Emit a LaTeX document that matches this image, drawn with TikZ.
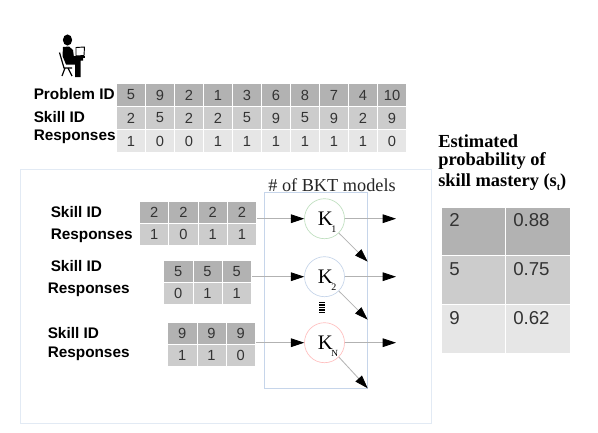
\documentclass[tikz,border=0pt]{standalone}
\usepackage{fontspec}
\setmainfont{Liberation Serif}
\newfontfamily\arialf{Liberation Sans}
\usetikzlibrary{arrows.meta}
\definecolor{gA}{HTML}{B2B2B2}
\definecolor{gB}{HTML}{CCCCCC}
\definecolor{gC}{HTML}{E6E6E6}
\definecolor{frameC}{HTML}{E2EAF4}
\definecolor{boxC}{HTML}{C6D5EA}
\definecolor{cellTxt}{HTML}{333333}
\tikzset{x=0.75pt,y=-0.75pt,
 lab/.style={font=\arialf\fontsize{11.5pt}{13pt}\bfseries\selectfont,anchor=west,inner sep=0pt,text=black},
 celltxt/.style={font=\arialf\fontsize{11pt}{13pt}\selectfont,text=cellTxt,inner sep=0pt},
 bigtxt/.style={font=\arialf\fontsize{14pt}{16pt}\selectfont,text=cellTxt,inner sep=0pt},
 conn/.style={draw=black!30,line width=0.6pt,-{Triangle[length=10pt,width=6.5pt,color=black]}},
 kn/.style={circle,minimum size=30pt,inner sep=0pt,line width=0.5pt,fill=white},
 ktxt/.style={font=\fontsize{15.5pt}{17pt}\selectfont,inner sep=0pt,anchor=base west,text=black},
 ksub/.style={font=\fontsize{7.5pt}{8pt}\selectfont,inner sep=0pt,anchor=base west,text=black},
 hd/.style={font=\fontsize{13.8pt}{16pt}\selectfont\bfseries,anchor=west,inner sep=0pt,text=black}}
\newcommand{\cellbox}[6]{% x0 y0 x1 y1 fill text
 \fill[#5,draw=white,line width=0.4pt] (#1,#2) rectangle (#3,#4);
 \node[celltxt] at ({(#1+#3)/2},{(#2+#4)/2+0.5}) {#6};}
\begin{document}
\begin{tikzpicture}
\useasboundingbox (0,0) rectangle (598,432);
\fill[white] (0,0) rectangle (598,432);
% person icon
\begin{scope}[black]
\fill (67.5,40) ellipse (4.6 and 5.6);
\fill (63,47) -- (69,46.5) -- (73,50) -- (74,57.5) -- (83,57.5) -- (83,60.5) -- (80.5,60.5) -- (80.5,77) -- (75,77) -- (75,64.5) -- (66,64.5) -- (62.5,56) -- cycle;
\draw[line width=0.9pt] (59.5,52.5) -- (64,68) -- (72,68);
\draw[line width=0.9pt] (65,68) -- (62,76) (68,68) -- (72,76);
\draw[line width=0.7pt,fill=white] (76,47.5) -- (84.5,47) -- (84,55.5) -- (76,56) -- cycle;
\draw[line width=1.2pt] (72,57) -- (84.5,57);
\end{scope}
% labels top
\node[lab] at (33.5,94) {Problem ID};
\node[lab] at (33.5,117) {Skill ID};
\node[lab] at (33.5,137) {Responses};
% top table
\foreach \i/\a/\b/\c in {0/5/2/1,1/9/5/0,2/2/2/0,3/1/2/1,4/3/5/1,5/6/9/1,6/8/5/1,7/7/9/1,8/4/2/1,9/10/9/0}{
 \pgfmathsetmacro{\xa}{116.5+29*\i}\pgfmathsetmacro{\xb}{\xa+29}
 \cellbox{\xa}{83}{\xb}{106}{gA}{\a}
 \cellbox{\xa}{106}{\xb}{129}{gB}{\b}
 \cellbox{\xa}{129}{\xb}{152}{gC}{\c}
}
% frame
\draw[frameC,line width=0.7pt] (20,169) rectangle (431,423);
\draw[boxC,line width=0.6pt] (264.3,192.7) rectangle (367.7,388);
\node[font=\fontsize{13.7pt}{15pt}\selectfont,inner sep=0pt,text=black!85] at (332,185) {\# of BKT models};
% skill tables
\foreach \i/\a/\b in {0/2/1,1/2/0,2/2/1,3/2/1}{
 \pgfmathsetmacro{\xa}{139.5+29.25*\i}\pgfmathsetmacro{\xb}{\xa+29.25}
 \cellbox{\xa}{201}{\xb}{223}{gA}{\a}
 \cellbox{\xa}{223}{\xb}{245}{gB}{\b}
}
\foreach \i/\a/\b in {0/5/0,1/5/1,2/5/1}{
 \pgfmathsetmacro{\xa}{163.5+29.3*\i}\pgfmathsetmacro{\xb}{\xa+29.3}
 \cellbox{\xa}{260}{\xb}{282}{gA}{\a}
 \cellbox{\xa}{282}{\xb}{304}{gB}{\b}
}
\foreach \i/\a/\b in {0/9/1,1/9/1,2/9/0}{
 \pgfmathsetmacro{\xa}{167.5+29.3*\i}\pgfmathsetmacro{\xb}{\xa+29.3}
 \cellbox{\xa}{322.3}{\xb}{344}{gA}{\a}
 \cellbox{\xa}{344}{\xb}{366}{gB}{\b}
}
\node[lab] at (50.5,212) {Skill ID};
\node[lab] at (50.5,236) {Responses};
\node[lab] at (50.5,266.5) {Skill ID};
\node[lab] at (47.5,290) {Responses};
\node[lab] at (47.5,333) {Skill ID};
\node[lab] at (47.5,353.5) {Responses};
% K nodes
\node[kn,draw=green!50!black!25] (k1) at (324.5,218.7) {};
\node[kn,draw=boxC] (k2) at (324.5,276.7) {};
\node[kn,draw=red!25] (k3) at (324.5,342.7) {};
\node[ktxt] (k1t) at (317.5,225.5) {K};
\node[ksub] (k1s) at (331,232) {1};
\node[ktxt] (k2t) at (317.5,283.5) {K};
\node[ksub] (k2s) at (331,290) {2};
\node[ktxt] (k3t) at (317.5,349.5) {K};
\node[ksub,font=\fontsize{7pt}{8pt}\selectfont] (k3s) at (331,356) {N};
% connector ends
\coordinate (i1) at (257,218.7); \coordinate (i2) at (252,276.7); \coordinate (i3) at (255.7,342.7);
\coordinate (o1) at (396,218.7); \coordinate (o2) at (396,276.7); \coordinate (o3) at (396,342.7);
\coordinate (d1) at (367.7,261.7); \coordinate (d2) at (367.7,319.7); \coordinate (d3) at (367.7,388.3);
\foreach \n in {1,2,3}{
 \draw[conn] (i\n) -- (k\n);
 \draw[conn] (k\n) -- (o\n);
 \draw[conn] (k\n.-45) -- (d\n);
}
% vertical dots
\foreach \y in {302.5,305,307.5,310,312.5}
 \draw[black,line width=0.9pt] (319,\y) -- (324.5,\y);
% right table
\node[hd] at (438,141) {Estimated};
\node[hd] at (438,161.5) {probability of};
\node[hd] at (438,182) {skill mastery (s\raisebox{-3pt}{\fontsize{7.5pt}{8pt}\selectfont t})};
\foreach \k/\ya/\yb/\c/\a/\b in {0/207/255.7/gA/2/0.88,1/255.7/304.7/gB/5/0.75,2/304.7/353/gC/9/0.62}{
 \fill[\c,draw=white,line width=0.4pt] (441.5,\ya) rectangle (505,\yb);
 \fill[\c,draw=white,line width=0.4pt] (505,\ya) rectangle (570,\yb);
 \node[bigtxt,anchor=base west] at (449,\ya+19.5) {\a};
 \node[bigtxt,anchor=base west] at (513,\ya+19.5) {\b};
}
\end{tikzpicture}
\end{document}
